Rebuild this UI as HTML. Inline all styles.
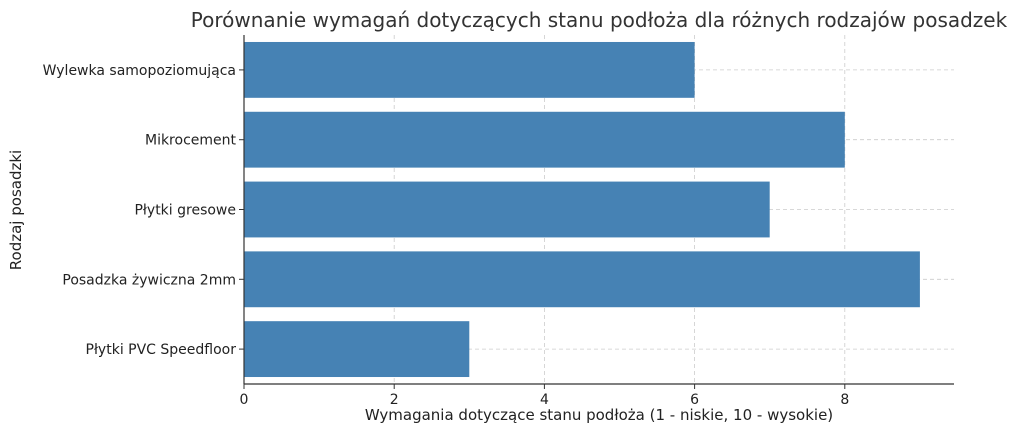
<!DOCTYPE html>
<html><head><meta charset="utf-8"><style>
body{margin:0;background:#fff;}
svg{display:block;font-family:"DejaVu Sans","Liberation Sans",sans-serif;}
</style></head><body>
<svg id="chart" width="1024" height="434">
<text x="599" y="27" font-size="20" fill="#333" text-anchor="middle">Porównanie wymagań dotyczących stanu podłoża dla różnych rodzajów posadzek</text>
<text transform="translate(21,210) rotate(-90)" font-size="15" fill="#222" text-anchor="middle">Rodzaj posadzki</text>
<text x="599" y="420" font-size="15" fill="#222" text-anchor="middle">Wymagania dotyczące stanu podłoża (1 - niskie, 10 - wysokie)</text>
<g id="grid"></g><g id="bars"></g><g id="axes"></g>
</svg>
<script>
const categories=["Wylewka samopoziomująca","Mikrocement","Płytki gresowe","Posadzka żywiczna 2mm","Płytki PVC Speedfloor"];
const values=[6,8,7,9,3];
const xTicks=[0,2,4,6,8];
(function(){
const NS="http://www.w3.org/2000/svg";
const x0=244,xEnd=954,yTop=35,yBottom=384,unit=75.1;
const xs=v=>x0+v*unit;
const step=(yBottom-yTop)/categories.length;
const yc=i=>yTop+step*(i+0.5);
function mk(t,a,p){const e=document.createElementNS(NS,t);for(const k in a)e.setAttribute(k,a[k]);p.appendChild(e);return e;}
const grid=document.getElementById('grid'),bars=document.getElementById('bars'),axes=document.getElementById('axes');
xTicks.forEach(t=>{
 const g=mk('line',{x1:xs(t),x2:xs(t),y1:yTop,y2:yBottom,stroke:'#ccc','stroke-dasharray':'4,3','stroke-width':0.8},grid);
 
 
 const tk=mk('line',{x1:xs(t),x2:xs(t),y1:yBottom,y2:yBottom+5,stroke:'#333'},axes);
 
 
 const lb=mk('text',{x:xs(t),y:yBottom+20,'font-size':14,fill:'#222','text-anchor':'middle'},axes);
 lb.textContent=t;
 
 
});
categories.forEach((c,i)=>{
 const y=yc(i);
 const g=mk('line',{x1:x0,x2:xEnd,y1:y,y2:y,stroke:'#ccc','stroke-dasharray':'4,3','stroke-width':0.8},grid);
 
 
 const h=step*0.8;
 const r=mk('rect',{x:x0,y:y-h/2,width:xs(values[i])-x0,height:h,fill:'#4682b4'},bars);
 
 
 const tk=mk('line',{x1:x0-5,x2:x0,y1:y,y2:y,stroke:'#333'},axes);
 
 
 const lb=mk('text',{x:x0-8,y:y+5,'font-size':14,fill:'#222','text-anchor':'end'},axes);
 lb.textContent=c;
 
 
});
const l=mk('line',{x1:x0,x2:x0,y1:yTop,y2:yBottom,stroke:'#333','stroke-width':1.2},axes);


const b=mk('line',{x1:x0,x2:xEnd,y1:yBottom,y2:yBottom,stroke:'#333','stroke-width':1.2},axes);


})();
</script>
</body></html>
